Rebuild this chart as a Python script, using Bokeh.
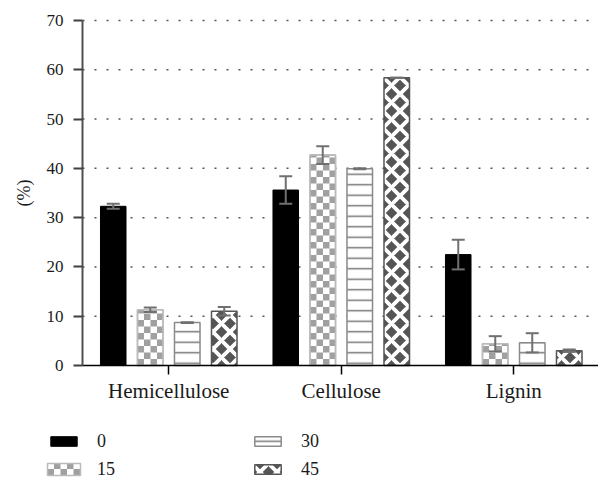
from bokeh.plotting import figure
from bokeh.models import (Range1d, FixedTicker, Whisker, TeeHead, ColumnDataSource,
                          Legend, LegendItem, LinearAxis)
from bokeh.embed import file_html
from bokeh.resources import INLINE

# ---- data ----
categories = ["Hemicellulose", "Cellulose", "Lignin"]
series_labels = ["0", "15", "30", "45"]
vals_0 = [32.3, 35.6, 22.5]
errs_0 = [0.5, 2.8, 3.0]
vals_15 = [11.3, 42.7, 4.4]
errs_15 = [0.45, 1.8, 1.55]
vals_30 = [8.7, 39.9, 4.6]
errs_30 = [0.1, 0.1, 1.95]
vals_45 = [11.0, 58.4, 3.0]
errs_45 = [0.85, 0.0, 0.25]
y_ticks = [0, 10, 20, 30, 40, 50, 60, 70]

FONT = "Liberation Serif"
TXT = "#1a1a1a"
CHECK_GREY = "#a0a0a0"
CHECK_EDGE = "#bbbbbb"

# ---- layout (pixels) ----
W, H = 598, 481
AX_LEFT, AX_TOP, AX_BOTTOM = 82, 20, 365
PX_PER_CAT = 172.5
CELL_PX = 6.5
LEG_X, LEG_GLYPH_W, LEG_GLYPH_H = 47, 33, 12
LEG_ROW2_CY = 469

y_max = y_ticks[-1]
px_per_y = (AX_BOTTOM - AX_TOP) / y_max
x_start = -AX_LEFT / PX_PER_CAT
x_end = (W - AX_LEFT) / PX_PER_CAT
y_end = y_max + AX_TOP / px_per_y
y_start = -(H - AX_BOTTOM) / px_per_y

def sx_to_x(px):
    return x_start + px / PX_PER_CAT

def sy_to_y(py):
    return y_end - py / px_per_y

p = figure(width=W, height=H, output_backend="svg", toolbar_location=None,
           x_range=Range1d(x_start, x_end), y_range=Range1d(y_start, y_end),
           x_axis_type=None, y_axis_type=None,
           min_border=0, min_border_left=0, min_border_right=0,
           min_border_top=0, min_border_bottom=0)
p.outline_line_color = None
p.background_fill_color = "white"
p.border_fill_color = "white"
p.grid.visible = False

# dotted horizontal grid (right of the y axis only)
p.segment(x0=0, x1=x_end, y0=y_ticks[1:], y1=y_ticks[1:], line_color="#555555",
          line_dash="2 10", line_width=1.5, level="underlay")

centers = [i + 0.5 for i in range(len(categories))]

xaxis = LinearAxis(fixed_location=0, bounds=(0, x_end))
xaxis.ticker = FixedTicker(ticks=centers)
xaxis.major_label_overrides = {c: n for c, n in zip(centers, categories)}
xaxis.minor_tick_line_color = None
xaxis.major_tick_out = 9
xaxis.major_tick_in = 0
xaxis.axis_line_color = "black"
xaxis.axis_line_width = 1.5
xaxis.major_tick_line_color = "black"
xaxis.major_tick_line_width = 1.5
xaxis.major_label_text_font = FONT
xaxis.major_label_text_font_size = "21px"
xaxis.major_label_text_color = TXT
xaxis.major_label_standoff = 4
p.add_layout(xaxis, "below")

yaxis = LinearAxis(fixed_location=0, bounds=(0, y_max))
yaxis.ticker = FixedTicker(ticks=y_ticks)
yaxis.minor_tick_line_color = None
yaxis.major_tick_out = 9
yaxis.major_tick_in = 0
yaxis.axis_line_color = "#505050"
yaxis.axis_line_width = 2
yaxis.major_tick_line_color = "#404040"
yaxis.major_tick_line_width = 2
yaxis.major_label_text_font = FONT
yaxis.major_label_text_font_size = "17px"
yaxis.major_label_text_color = TXT
yaxis.major_label_standoff = 10
yaxis.axis_label = "(%)"
yaxis.axis_label_text_font = FONT
yaxis.axis_label_text_font_size = "18px"
yaxis.axis_label_text_font_style = "normal"
yaxis.axis_label_text_color = TXT
yaxis.axis_label_standoff = 10
p.add_layout(yaxis, "left")

offsets = [-1.5, -0.5, 0.5, 1.5]
step = 0.2145
bar_w = 0.148
cell_w = CELL_PX / PX_PER_CAT
cell_h = CELL_PX / px_per_y

def checker_cells(x0, x1, y0, y1, cw, ch):
    """grey cells of a checkerboard clipped to the box (x0..x1, y0..y1)"""
    L, R, B, T = [], [], [], []
    r = 0
    while y0 + r * ch < y1 - 1e-9:
        c = 0
        while x0 + c * cw < x1 - 1e-9:
            if (r + c) % 2 == 0:
                L.append(x0 + c * cw)
                R.append(min(x0 + (c + 1) * cw, x1))
                B.append(y0 + r * ch)
                T.append(min(y0 + (r + 1) * ch, y1))
            c += 1
        r += 1
    return L, R, B, T

styles = [
    dict(fill_color="black", line_color="black", line_width=1),
    dict(fill_color="white", line_color=CHECK_EDGE, line_width=1.5),
    dict(fill_color="white", line_color="#8a8a8a", line_width=1.5,
         hatch_pattern="horizontal_line", hatch_color="#777777",
         hatch_weight=1.5, hatch_scale=10.5),
    dict(fill_color="#555555", line_color="#555555", line_width=1.5,
         hatch_pattern="diagonal_cross", hatch_color="white",
         hatch_weight=3.8, hatch_scale=17),
]

all_vals = [vals_0, vals_15, vals_30, vals_45]
all_errs = [errs_0, errs_15, errs_30, errs_45]
legend_renderers = []
for k, (vals, errs) in enumerate(zip(all_vals, all_errs)):
    xs = [c + offsets[k] * step for c in centers]
    src = ColumnDataSource(dict(
        x=xs, top=vals,
        upper=[v + e for v, e in zip(vals, errs)],
        lower=[v - e for v, e in zip(vals, errs)]))
    r = p.vbar(x="x", top="top", bottom=0, width=bar_w, source=src, **styles[k])
    if k == 1:
        # checkerboard fill, then the outline again on top
        L, R, B, T = [], [], [], []
        for xc, v in zip(xs, vals):
            l, rr, b, t = checker_cells(xc - bar_w / 2, xc + bar_w / 2, 0, v, cell_w, cell_h)
            L += l; R += rr; B += b; T += t
        p.quad(left=L, right=R, bottom=B, top=T, fill_color=CHECK_GREY, line_color=None)
        p.vbar(x="x", top="top", bottom=0, width=bar_w, source=src,
               fill_color=None, line_color=CHECK_EDGE, line_width=1.5)
        # the legend swatch of this series is drawn by hand (below)
        r = p.vbar(x=[], top=[], width=bar_w, fill_alpha=0, line_alpha=0)
    legend_renderers.append(r)
    w = Whisker(source=src, base="x", upper="upper", lower="lower",
                line_color="#707070", line_width=2, level="annotation",
                upper_head=TeeHead(size=13, line_color="#707070", line_width=2),
                lower_head=TeeHead(size=13, line_color="#707070", line_width=2))
    p.add_layout(w)

items = [LegendItem(label=lab, renderers=[r]) for lab, r in zip(series_labels, legend_renderers)]
legend = Legend(items=items, location=(LEG_X, 1.5), orientation="vertical", nrows=2,
                glyph_width=LEG_GLYPH_W, glyph_height=LEG_GLYPH_H, label_standoff=17,
                label_width=147, spacing=7, padding=0, margin=0,
                border_line_color=None, background_fill_alpha=0,
                label_text_font=FONT, label_text_font_size="18px",
                label_text_color=TXT)
p.add_layout(legend)

# checkerboard swatch of "15" in the legend
lx0, lx1 = sx_to_x(LEG_X), sx_to_x(LEG_X + LEG_GLYPH_W)
ly0 = sy_to_y(LEG_ROW2_CY + LEG_GLYPH_H / 2)
ly1 = sy_to_y(LEG_ROW2_CY - LEG_GLYPH_H / 2)
p.quad(left=[lx0], right=[lx1], bottom=[ly0], top=[ly1], fill_color="white",
       line_color=None, level="overlay")
L, R, B, T = checker_cells(lx0, lx1, ly0, ly1, cell_w, cell_h)
p.quad(left=L, right=R, bottom=B, top=T, fill_color=CHECK_GREY, line_color=None,
       level="overlay")
p.quad(left=[lx0], right=[lx1], bottom=[ly0], top=[ly1], fill_color=None,
       line_color=CHECK_EDGE, line_width=1.5, level="overlay")

open("out.html", "w").write(file_html(p, INLINE))
